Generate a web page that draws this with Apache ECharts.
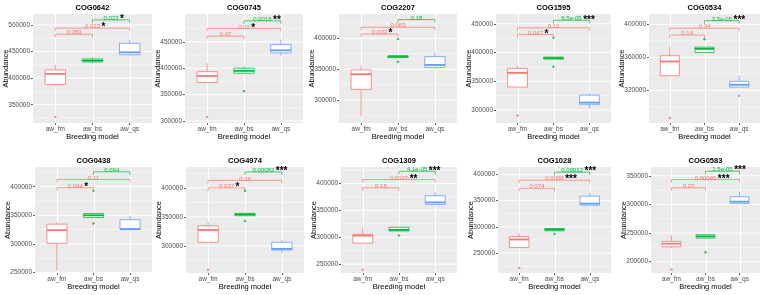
<!DOCTYPE html>
<html>
<head>
<meta charset="utf-8">
<script src="https://cdn.jsdelivr.net/npm/echarts@6/dist/echarts.min.js"></script>
<style>
  html, body { margin: 0; padding: 0; background: #fff; }
  #chart { width: 767px; height: 295px; }
</style>
</head>
<body>
<div id="chart"></div>
<script>
const groups = ['aw_fm', 'aw_bs', 'aw_qs'];
const cogs = ['COG0642', 'COG0745', 'COG2207', 'COG1595', 'COG0534',
              'COG0438', 'COG4974', 'COG1309', 'COG1028', 'COG0583'];

// [lower whisker, Q1, median, Q3, upper whisker], one row per COG
const fmStats = [
  [386000, 388000, 408000, 415500, 425000],
  [373000, 373000, 385500, 393500, 409500],
  [274000, 317500, 342000, 349000, 355500],
  [340000, 340000, 364700, 372500, 377000],
  [337700, 337700, 355000, 362000, 373000],
  [254000, 301000, 324000, 334500, 337500],
  [306000, 306300, 327400, 334800, 340500],
  [289000, 289000, 303000, 305500, 316700],
  [260500, 260500, 276000, 281500, 287700],
  [224000, 225800, 231500, 235600, 246000]
];
const bsStats = [
  [428000, 430500, 433000, 436000, 438500],
  [390000, 390500, 395000, 400000, 403000],
  [369000, 369000, 370700, 371800, 372500],
  [388500, 388500, 390300, 392000, 392000],
  [365800, 365800, 370300, 372300, 372300],
  [346000, 346000, 350000, 353000, 353000],
  [352000, 352000, 354300, 356000, 356000],
  [311700, 311700, 313600, 318500, 318500],
  [292600, 292600, 295000, 296900, 296900],
  [241300, 241300, 244200, 247100, 247100]
];
const qsStats = [
  [442000, 444000, 448500, 465500, 472000],
  [424000, 429000, 434000, 445000, 454500],
  [351000, 353000, 357000, 370500, 377000],
  [303000, 310000, 313000, 326000, 329000],
  [324000, 324000, 326800, 331000, 337700],
  [325000, 325000, 326000, 342300, 349000],
  [287400, 293100, 294900, 306300, 310300],
  [361100, 361100, 364800, 377200, 383300],
  [341300, 341300, 344400, 358600, 364800],
  [301900, 301900, 304800, 313500, 322000]
];

// outliers: [group position (1..3), value]
const outliers = [
  [[1, 327000]],
  [[1, 307500], [2, 356500]],
  [[2, 399000], [2, 362000]],
  [[1, 290500], [2, 425500], [2, 375500]],
  [[1, 286500], [2, 382000], [3, 313500]],
  [[2, 393000], [2, 335500]],
  [[1, 259000], [2, 395000], [2, 343000]],
  [[1, 239500], [2, 303000]],
  [[1, 221500], [2, 286500]],
  [[1, 186500], [2, 216500]]
];

// pairwise tests: [from, to, bracket level, p value, stars]
const comparisons = [
  [[1, 2, 482500, '0.089', ''], [1, 3, 494000, '0.023', '*'], [2, 3, 509500, '0.023', '*']],
  [[1, 2, 461000, '0.47', ''], [1, 3, 475500, '0.02', '*'], [2, 3, 490000, '0.0018', '**']],
  [[1, 2, 407000, '0.033', '*'], [1, 3, 418000, '0.083', ''], [2, 3, 430500, '0.18', '']],
  [[1, 2, 431500, '0.047', '*'], [1, 3, 443000, '0.12', ''], [2, 3, 456000, '9.5e-05', '***']],
  [[1, 2, 387000, '0.14', ''], [1, 3, 395200, '0.34', ''], [2, 3, 404400, '3.5e-05', '***']],
  [[1, 2, 398300, '0.044', '*'], [1, 3, 412700, '0.11', ''], [2, 3, 426000, '0.094', '']],
  [[1, 2, 400000, '0.037', '*'], [1, 3, 413000, '0.36', ''], [2, 3, 427400, '0.00082', '***']],
  [[1, 2, 392000, '0.18', ''], [1, 3, 407400, '0.0037', '**'], [2, 3, 422800, '4.1e-05', '***']],
  [[1, 2, 373500, '0.074', ''], [1, 3, 389000, '0.0008', '***'], [2, 3, 404300, '0.00012', '***']],
  [[1, 2, 329000, '0.27', ''], [1, 3, 343500, '0.00045', '***'], [2, 3, 358000, '1.5e-05', '***']]
];

const yLimits = [
  [315600, 520600], [296000, 503000], [263000, 439500], [277500, 467000], [280500, 412500],
  [249000, 434500], [253300, 436000], [233300, 430800], [212000, 414200], [180200, 365400]
];
const yTicks = [
  [350000, 400000, 450000, 500000],
  [300000, 350000, 400000, 450000],
  [300000, 350000, 400000],
  [300000, 350000, 400000, 450000],
  [320000, 360000, 400000],
  [250000, 300000, 350000, 400000],
  [300000, 350000, 400000],
  [250000, 300000, 350000, 400000],
  [250000, 300000, 350000, 400000],
  [200000, 250000, 300000, 350000]
];

// panel plot areas: left, top, width, height (px)
const panelRects = [
  [33, 14, 119, 109], [185, 14, 118, 109], [339, 14, 118, 109], [496, 14, 115, 109], [649, 14, 111, 109],
  [35, 167, 117, 106], [186, 167, 118, 106], [341, 167, 116, 106], [498, 167, 113, 106], [651, 167, 109, 106]
];

const colors = ['#F8766D', '#00BA38', '#619CFF'];
const FONT = "'Liberation Sans', Arial, sans-serif";
const P_FONT_SIZE = 6;
const boxHalf = 0.275;

const measureCtx = document.createElement('canvas').getContext('2d');
function textWidth(s, size) {
  measureCtx.font = size + 'px ' + FONT;
  return measureCtx.measureText(s).width;
}

function gridLines(params, api) {
  const cs = params.coordSys;
  const kind = api.value(0);
  const v = api.value(1);
  if (kind === 2) {
    const x = Math.round(api.coord([v, 0])[0]) + 0.5;
    return { type: 'line', shape: { x1: x, y1: cs.y, x2: x, y2: cs.y + cs.height },
             style: { stroke: '#fff', lineWidth: 1 } };
  }
  const y = api.coord([1, v])[1];
  return { type: 'line', shape: { x1: cs.x, y1: y, x2: cs.x + cs.width, y2: y },
           style: { stroke: '#fff', lineWidth: kind === 0 ? 1 : 0.5 } };
}

function drawBox(params, api) {
  const x = api.value(0);
  const c = colors[x - 1];
  const lo = api.coord([x, api.value(1)]);
  const hi = api.coord([x, api.value(5)]);
  const tl = api.coord([x - boxHalf, api.value(4)]);
  const br = api.coord([x + boxHalf, api.value(2)]);
  const m = api.coord([x, api.value(3)])[1];
  return {
    type: 'group',
    children: [
      { type: 'line', shape: { x1: lo[0], y1: br[1], x2: lo[0], y2: lo[1] }, style: { stroke: c, lineWidth: 0.8 } },
      { type: 'line', shape: { x1: hi[0], y1: tl[1], x2: hi[0], y2: hi[1] }, style: { stroke: c, lineWidth: 0.8 } },
      { type: 'rect', shape: { x: tl[0], y: tl[1], width: br[0] - tl[0], height: br[1] - tl[1] },
        style: { fill: '#fff', stroke: c, lineWidth: 0.8 } },
      { type: 'line', shape: { x1: tl[0], y1: m, x2: br[0], y2: m }, style: { stroke: c, lineWidth: 1.8 } }
    ]
  };
}

function bracketRenderer(i) {
  return function (params, api) {
    const cmp = comparisons[i][params.dataIndex];
    const a = api.coord([api.value(0), api.value(2)]);
    const b = api.coord([api.value(1), api.value(2)]);
    const c = colors[api.value(0) - 1];
    const tip = 3;
    const cx = (a[0] + b[0]) / 2;
    const children = [
      { type: 'polyline',
        shape: { points: [[a[0], a[1] + tip], [a[0], a[1]], [b[0], b[1]], [b[0], b[1] + tip]] },
        style: { stroke: c, fill: null, lineWidth: 0.7 } },
      { type: 'text', x: cx, y: a[1] + 1.5,
        style: { text: cmp[3], align: 'center', verticalAlign: 'bottom',
                 fontSize: P_FONT_SIZE, fontFamily: FONT, fill: c } }
    ];
    if (cmp[4]) {
      children.push({ type: 'text', x: cx + textWidth(cmp[3], P_FONT_SIZE) / 2 + 1.5, y: a[1] - 0.5,
        style: { text: cmp[4], align: 'left', verticalAlign: 'middle',
                 fontSize: 10, fontWeight: 'bold', fontFamily: FONT, fill: '#000' } });
    }
    return { type: 'group', children: children };
  };
}

const option = { animation: false, title: [], grid: [], xAxis: [], yAxis: [], series: [] };

cogs.forEach(function (cog, i) {
  const [l, t, w, h] = panelRects[i];
  const [ymin, ymax] = yLimits[i];
  const ticks = yTicks[i];

  option.title.push({
    text: cog, left: l + w / 2, top: t - 10.5, textAlign: 'center', padding: 0,
    textStyle: { fontSize: 7.5, fontWeight: 'bold', color: '#000', fontFamily: FONT }
  });
  option.grid.push({
    left: l, top: t, width: w, height: h, show: true,
    backgroundColor: '#EBEBEB', borderWidth: 0, outerBoundsMode: 'none'
  });
  option.xAxis.push({
    type: 'value', gridIndex: i, min: 0.4, max: 3.6,
    name: 'Breeding model', nameLocation: 'middle', nameGap: 10,
    nameTextStyle: { fontSize: 7.5, color: '#000', fontFamily: FONT },
    axisLine: { show: false }, splitLine: { show: false },
    axisTick: { show: true, length: 2, customValues: [1, 2, 3], lineStyle: { color: '#333', width: 0.8 } },
    axisLabel: { customValues: [1, 2, 3], formatter: v => groups[v - 1], margin: 2.5,
                 fontSize: 6.5, color: '#4D4D4D', fontFamily: FONT }
  });
  option.yAxis.push({
    type: 'value', gridIndex: i, min: ymin, max: ymax,
    name: 'Abundance', nameLocation: 'middle', nameGap: 23, nameMoveOverlap: false,
    nameTextStyle: { fontSize: 7.5, color: '#000', fontFamily: FONT },
    axisLine: { show: false }, splitLine: { show: false },
    axisTick: { show: true, length: 2, customValues: ticks, lineStyle: { color: '#333', width: 0.8 } },
    axisLabel: { customValues: ticks, formatter: v => String(v), margin: 3,
                 fontSize: 6.5, color: '#4D4D4D', fontFamily: FONT }
  });

  // background grid lines (major, minor, vertical)
  const step = ticks[1] - ticks[0];
  const lines = ticks.map(v => [0, v]);
  for (let v = ticks[0] - step / 2; v < ymax; v += step) {
    if (v > ymin) lines.push([1, v]);
  }
  [1, 2, 3].forEach(x => lines.push([2, x]));
  option.series.push({
    type: 'custom', xAxisIndex: i, yAxisIndex: i, z: 1, silent: true,
    renderItem: gridLines, data: lines
  });

  option.series.push({
    type: 'custom', xAxisIndex: i, yAxisIndex: i, z: 2, silent: true,
    renderItem: drawBox,
    data: [[1].concat(fmStats[i]), [2].concat(bsStats[i]), [3].concat(qsStats[i])]
  });

  option.series.push({
    type: 'scatter', xAxisIndex: i, yAxisIndex: i, z: 3, silent: true,
    symbolSize: 2.5,
    data: outliers[i].map(p => ({ value: p, itemStyle: { color: colors[p[0] - 1] } }))
  });

  option.series.push({
    type: 'custom', xAxisIndex: i, yAxisIndex: i, z: 4, silent: true,
    renderItem: bracketRenderer(i),
    data: comparisons[i].map(c => [c[0], c[1], c[2]])
  });
});

const chart = echarts.init(document.getElementById('chart'));
chart.setOption(option);
</script>
</body>
</html>
